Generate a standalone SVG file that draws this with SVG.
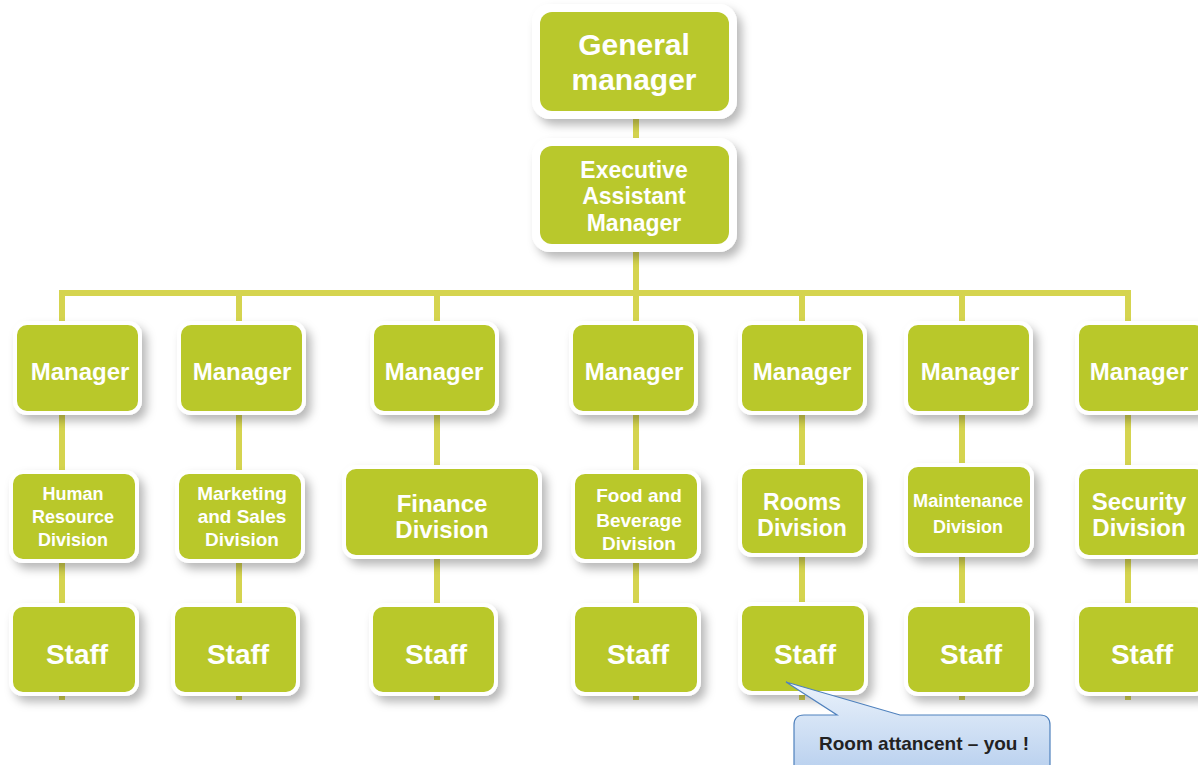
<svg xmlns="http://www.w3.org/2000/svg" width="1198" height="765" viewBox="0 0 1198 765">
<defs>
<filter id="sh" x="-20%" y="-20%" width="150%" height="150%">
<feDropShadow dx="5" dy="6" stdDeviation="5" flood-color="#000" flood-opacity="0.28"/>
</filter>
<linearGradient id="cg" x1="0" y1="0" x2="0" y2="1">
<stop offset="0" stop-color="#eaf2fb"/>
<stop offset="1" stop-color="#b7cfee"/>
</linearGradient>
<style>
.b{fill:#b9c82c;stroke:#ffffff;stroke-width:4;filter:url(#sh)}
.w{fill:#ffffff;filter:url(#sh)}
.g{fill:#b9c82c}
.t{font-family:"Liberation Sans",Arial,sans-serif;font-weight:bold;fill:#ffffff;text-anchor:middle}
.c{stroke:#d5d44f;stroke-width:6;fill:none}
</style>
</defs>
<rect width="1198" height="765" fill="#ffffff"/>
<g id="connectors">
<line class="c" x1="636" y1="110" x2="636" y2="293"/>
<polyline class="c" points="62,323 62,293 1128,293 1128,323"/>
<line class="c" x1="62" y1="293" x2="62" y2="700"/>
<line class="c" x1="239" y1="293" x2="239" y2="700"/>
<line class="c" x1="437" y1="293" x2="437" y2="700"/>
<line class="c" x1="636" y1="293" x2="636" y2="700"/>
<line class="c" x1="802" y1="293" x2="802" y2="700"/>
<line class="c" x1="962" y1="293" x2="962" y2="700"/>
<line class="c" x1="1128" y1="293" x2="1128" y2="700"/>
</g>
<g id="gm"><rect class="w" x="532" y="4" width="205" height="115" rx="18"/><rect class="g" x="540" y="12" width="189" height="99" rx="12"/>
<text class="t" font-size="30" x="634" y="55">General</text><text class="t" font-size="30" x="634" y="90">manager</text></g>
<g id="eam"><rect class="w" x="532" y="138" width="205" height="114" rx="18"/><rect class="g" x="540" y="146" width="189" height="98" rx="12"/>
<text class="t" font-size="23" x="634" y="178">Executive</text><text class="t" font-size="23" x="634" y="204">Assistant</text><text class="t" font-size="23" x="634" y="231">Manager</text></g>

<g id="m1"><rect class="b" x="15" y="323" width="125" height="90" rx="12"/><text class="t" font-size="24" x="80" y="380">Manager</text></g>
<g id="m2"><rect class="b" x="179" y="323" width="125" height="90" rx="12"/><text class="t" font-size="24" x="242" y="380">Manager</text></g>
<g id="m3"><rect class="b" x="372" y="323" width="125" height="90" rx="12"/><text class="t" font-size="24" x="434" y="380">Manager</text></g>
<g id="m4"><rect class="b" x="571" y="323" width="125" height="90" rx="12"/><text class="t" font-size="24" x="634" y="380">Manager</text></g>
<g id="m5"><rect class="b" x="740" y="323" width="125" height="90" rx="12"/><text class="t" font-size="24" x="802" y="380">Manager</text></g>
<g id="m6"><rect class="b" x="906" y="323" width="125" height="90" rx="12"/><text class="t" font-size="24" x="970" y="380">Manager</text></g>
<g id="m7"><rect class="b" x="1077" y="323" width="130" height="90" rx="12"/><text class="t" font-size="24" x="1139" y="380">Manager</text></g>

<g id="d1"><rect class="b" x="11" y="472" width="126" height="89" rx="12"/>
<text class="t" font-size="18" x="73" y="500">Human</text><text class="t" font-size="18" x="73" y="523">Resource</text><text class="t" font-size="18" x="73" y="546">Division</text></g>
<g id="d2"><rect class="b" x="177" y="472" width="126" height="89" rx="12"/>
<text class="t" font-size="19" x="242" y="500">Marketing</text><text class="t" font-size="19" x="242" y="523">and Sales</text><text class="t" font-size="19" x="242" y="546">Division</text></g>
<g id="d3"><rect class="b" x="344" y="467" width="196" height="90" rx="12"/>
<text class="t" font-size="24" x="442" y="512">Finance</text><text class="t" font-size="24" x="442" y="538">Division</text></g>
<g id="d4"><rect class="b" x="573" y="472" width="126" height="89" rx="12"/>
<text class="t" font-size="19" x="639" y="502">Food and</text><text class="t" font-size="19" x="639" y="527">Beverage</text><text class="t" font-size="19" x="639" y="550">Division</text></g>
<g id="d5"><rect class="b" x="740" y="467" width="125" height="88" rx="12"/>
<text class="t" font-size="23" x="802" y="510">Rooms</text><text class="t" font-size="23" x="802" y="536">Division</text></g>
<g id="d6"><rect class="b" x="906" y="465" width="126" height="90" rx="12"/>
<text class="t" font-size="18" x="968" y="507" textLength="110" lengthAdjust="spacingAndGlyphs">Maintenance</text><text class="t" font-size="18" x="968" y="533">Division</text></g>
<g id="d7"><rect class="b" x="1077" y="467" width="130" height="90" rx="12"/>
<text class="t" font-size="24" x="1139" y="510">Security</text><text class="t" font-size="24" x="1139" y="536">Division</text></g>

<g id="s1"><rect class="b" x="11" y="605" width="126" height="89" rx="12"/><text class="t" font-size="28" x="77" y="664">Staff</text></g>
<g id="s2"><rect class="b" x="173" y="605" width="125" height="89" rx="12"/><text class="t" font-size="28" x="238" y="664">Staff</text></g>
<g id="s3"><rect class="b" x="371" y="605" width="125" height="89" rx="12"/><text class="t" font-size="28" x="436" y="664">Staff</text></g>
<g id="s4"><rect class="b" x="573" y="605" width="126" height="89" rx="12"/><text class="t" font-size="28" x="638" y="664">Staff</text></g>
<g id="s5"><rect class="b" x="740" y="604" width="126" height="89" rx="12"/><text class="t" font-size="28" x="805" y="664">Staff</text></g>
<g id="s6"><rect class="b" x="906" y="605" width="126" height="89" rx="12"/><text class="t" font-size="28" x="971" y="664">Staff</text></g>
<g id="s7"><rect class="b" x="1077" y="605" width="130" height="89" rx="12"/><text class="t" font-size="28" x="1142" y="664">Staff</text></g>

<g id="callout">
<path d="M786,682 L837,715 L804,715 Q794,715 794,725 L794,775 L1050,775 L1050,725 Q1050,715 1040,715 L900,715 Z" fill="url(#cg)" stroke="#4f81bd" stroke-width="1.2"/>
<text x="924" y="750" font-family="Liberation Sans,Arial,sans-serif" font-weight="bold" font-size="19" fill="#222222" text-anchor="middle">Room attancent – you !</text>
</g>
</svg>
